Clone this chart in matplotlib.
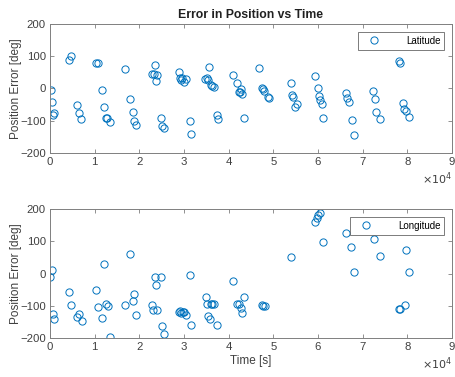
import numpy as np
import matplotlib.pyplot as plt

# =====================================================
# Data
# =====================================================

lat_t = [0.015, 0.04, 0.07, 0.10, 0.43, 0.47, 0.61, 0.65, 0.70,
         1.03, 1.07, 1.16, 1.22, 1.25, 1.28, 1.34, 1.67, 1.79, 1.86,
         1.89, 1.92, 2.28, 2.32, 2.34, 2.40, 2.37, 2.49, 2.51, 2.55,
         2.88, 2.92, 2.96, 2.94, 2.99, 3.04, 3.13, 3.15, 3.48, 3.52,
         3.54, 3.57, 3.60, 3.63, 3.67, 3.73, 3.76, 4.09, 4.18, 4.23,
         4.28, 4.25, 4.30, 4.34, 4.69, 4.75, 4.78, 4.80, 4.87, 4.91,
         5.39, 5.41, 5.45, 5.52, 5.48, 5.94, 5.99, 6.02, 6.05, 6.09,
         6.12, 6.63, 6.66, 6.70, 6.76, 6.81, 7.24, 7.27, 7.30, 7.39,
         7.81, 7.84, 7.90, 7.92, 7.96, 8.03]
lat_err = [-6, -41, -81, -75, 87, 100, -50, -75, -96,
           79, 80, -6, -57, -91, -91, -105, 59, -34, -73,
           -101, -112, 45, 45, 72, 43, 23, -90, -117, -124,
           51, 33, 33, 27, 20, 30, -102, -141, 28, 33,
           26, 66, 12, 9, 5, -83, -95, 42, 16, -10,
           -2, -12, -16, -90, 63, 1, -3, -8, -25, -29,
           18, -21, -25, -48, -57, 38, 0, -24, -37, -48,
           -93, -13, -31, -41, -97, -144, -7, -34, -73, -96,
           84, 79, -46, -63, -70, -87]

lon_t = [0.0, 0.04, 0.06, 0.10, 0.43, 0.46, 0.61, 0.65, 0.71,
         1.03, 1.07, 1.16, 1.22, 1.25, 1.29, 1.34, 1.67, 1.79, 1.85,
         1.89, 1.92, 2.28, 2.30, 2.34, 2.37, 2.40, 2.49, 2.51, 2.55,
         2.88, 2.91, 2.94, 2.97, 3.00, 3.04, 3.13, 3.15, 3.49, 3.51,
         3.54, 3.58, 3.60, 3.63, 3.67, 3.73, 4.09, 4.18, 4.23, 4.28,
         4.30, 4.34, 4.75, 4.78, 4.81, 5.39, 5.93, 5.97, 6.01, 6.04,
         6.12, 6.63, 6.75, 6.81, 7.26, 7.39, 7.81, 7.84, 7.94, 7.96,
         8.03]
lon_err = [-10, 12, -124, -142, -58, -97, -135, -127, -147,
           -50, -104, -139, 31, -96, -101, -198, -99, 61, -84,
           -64, -129, -98, -113, -11, -37, -114, -11, -164, -188,
           -119, -117, -123, -118, -120, -129, -6, -159, -73, -93,
           -133, -141, -96, -95, -95, -159, -22, -93, -96, -106,
           -122, -74, -99, -101, -101, 51, 160, 173, 180, 188,
           97, 126, 82, 6, 108, 55, -110, -110, -97, 73,
           5]

x_ticks = [0, 1, 2, 3, 4, 5, 6, 7, 8, 9]
y_ticks = [-200, -100, 0, 100, 200]

# =====================================================
# Plot
# =====================================================

blue = (0, 0.447, 0.741)
axis_col = "#7f7f7f"
text_col = "#404040"

plt.rcParams["font.family"] = "Liberation Sans"

fig = plt.figure(figsize=(4.56, 3.77), dpi=100)

ax1 = fig.add_axes([0.1096, 0.5942, 0.8816, 0.3422])
ax2 = fig.add_axes([0.1096, 0.1034, 0.8816, 0.3422])

panels = [
    (ax1, lat_t, lat_err, "Latitude"),
    (ax2, lon_t, lon_err, "Longitude"),
]

for ax, t, err, name in panels:

    ax.plot(
        np.array(t) * 1e4,
        err,
        linestyle="none",
        marker="o",
        markersize=5.2,
        markerfacecolor="none",
        markeredgecolor=blue,
        markeredgewidth=0.7,
        label=name
    )

    ax.set_xlim(0, 9e4)
    ax.set_ylim(-200, 200)
    ax.set_xticks(np.array(x_ticks) * 1e4)
    ax.set_xticklabels([str(v) for v in x_ticks])
    ax.set_yticks(y_ticks)

    ax.tick_params(
        direction="in",
        length=3,
        width=0.6,
        colors=axis_col,
        labelcolor=text_col,
        labelsize=8.2,
        top=True,
        right=True,
        pad=3
    )

    for s in ax.spines.values():
        s.set_color(axis_col)
        s.set_linewidth(0.7)

    ax.set_ylabel("Position Error [deg]", fontsize=8.5, color=text_col,
                  labelpad=-1.5)

    ax.text(
        1.0, -0.20,
        r"$\times10^4$",
        transform=ax.transAxes,
        ha="right",
        va="center",
        fontsize=8,
        color=text_col
    )

    leg = ax.legend(
        loc="upper right",
        fontsize=7,
        frameon=True,
        fancybox=False,
        edgecolor=text_col,
        borderpad=0.4,
        handletextpad=2.0,
        handlelength=2.5,
        borderaxespad=0.8
    )
    leg.get_frame().set_linewidth(0.6)

ax1.set_title("Error in Position vs Time", fontsize=8.8, fontweight="bold",
              color="#202020", pad=4)

ax2.set_xlabel("Time [s]", fontsize=8.5, color=text_col, labelpad=2)

plt.savefig("out.png", dpi=100)
